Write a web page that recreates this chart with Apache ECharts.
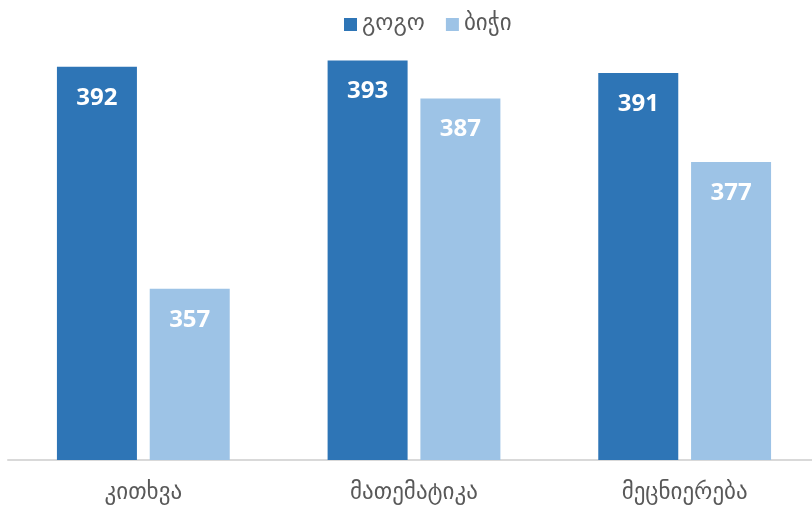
<!DOCTYPE html>
<html><head><meta charset="utf-8">
<script src="https://cdn.jsdelivr.net/npm/echarts@6/dist/echarts.min.js"></script>
<style>html,body{margin:0;padding:0;background:#fff}#c{width:812px;height:508px}</style>
</head><body><div id="c"></div>
<script>
const categories = ['კითხვა', 'მათემატიკა', 'მეცნიერება'];
const seriesNames = ['გოგო', 'ბიჭი'];
const girls = [392, 393, 391];
const boys = [357, 387, 377];

const chart = echarts.init(document.getElementById('c'), null, {renderer: 'canvas'});
const labelStyle = {show: true, position: 'insideTop', distance: 19, color: '#fff', fontWeight: 'bold', fontSize: 24, fontFamily: 'Open Sans, sans-serif'};
chart.setOption({
  animation: false,
  legend: {
    data: seriesNames, top: 8, left: 339, itemWidth: 13, itemHeight: 13, itemGap: 21,
    icon: 'rect',
    textStyle: {color: '#595959', fontSize: 23, fontFamily: 'DejaVu Sans, sans-serif'}
  },
  grid: {left: 8, width: 812, top: 16, height: 444, outerBoundsMode: 'none', containLabel: false},
  xAxis: {
    type: 'category', data: categories,
    axisLine: {lineStyle: {color: '#d9d9d9', width: 2}},
    axisTick: {show: false},
    axisLabel: {color: '#595959', fontSize: 23, margin: 22, fontFamily: 'DejaVu Sans, sans-serif'}
  },
  yAxis: {type: 'value', min: 330, max: 400, show: false, splitLine: {show: false}},
  series: [
    {name: seriesNames[0], type: 'bar', data: girls, barWidth: 80, barGap: '16%', itemStyle: {color: '#2E75B6'}, label: labelStyle},
    {name: seriesNames[1], type: 'bar', data: boys, barWidth: 80, barGap: '16%', itemStyle: {color: '#9DC3E6'}, label: labelStyle}
  ]
});
</script></body></html>
